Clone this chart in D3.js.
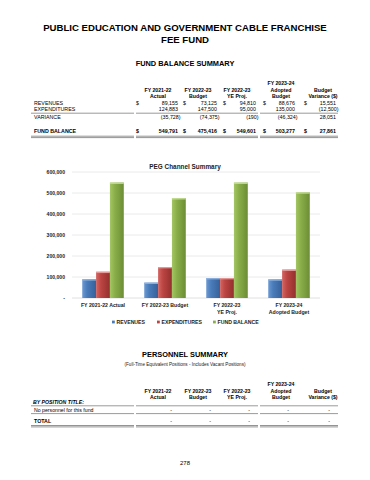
<!DOCTYPE html>
<html><head><meta charset="utf-8">
<script src="https://cdn.jsdelivr.net/npm/d3@7"></script>
<style>
html,body{margin:0;padding:0;background:#fff;}
svg{display:block;font-family:"Liberation Sans",Arial,sans-serif;}
</style></head>
<body>
<svg id="c" width="370" height="480"></svg>
<script>
// ---- data ----
const categories = ["FY 2021-22 Actual","FY 2022-23 Budget","FY 2022-23 YE Proj.","FY 2023-24 Adopted Budget"];
const categoryLabels = [["FY 2021-22 Actual"],["FY 2022-23 Budget"],["FY 2022-23","YE Proj."],["FY 2023-24","Adopted Budget"]];
const seriesNames = ["REVENUES","EXPENDITURES","FUND BALANCE"];
const revenues = [89155, 73125, 94810, 88676];
const expenditures = [124883, 147500, 95000, 135000];
const fundBalance = [549791, 475416, 549601, 503277];
const yTicks = [0,100000,200000,300000,400000,500000,600000];

const tableRowLabels = ["REVENUES","EXPENDITURES","VARIANCE","FUND BALANCE"];
const revenuesRow = [89155, 73125, 94810, 88676, 15551];
const expendituresRow = [124883, 147500, 95000, 135000, -12500];
const varianceRow = [-35728, -74375, -190, -46324, 28051];
const fundBalanceRow = [549791, 475416, 549601, 503277, 27861];
const headerTop = ["","","","FY 2023-24",""];
const headerMid = ["FY 2021-22","FY 2022-23","FY 2022-23","Adopted","Budget"];
const headerBot = ["Actual","Budget","YE Proj.","Budget","Variance ($)"];
const personnelRows = ["No personnel for this fund"];

// ---- layout ----
const svg = d3.select("#c");
const colCenter = [158,198,237,281,323];
const colRight = [179,218,257,296,337];
const colDollar = [136,183,223,263,304];
const segs = [[31,134],[136,258],[260,338]];

function txt(x,y,s,opt={}){
  return svg.append("text").attr("x",x).attr("y",y).text(s)
    .attr("font-size",opt.size||5.4).attr("font-weight",opt.bold?"bold":"normal")
    .attr("font-style",opt.italic?"italic":"normal")
    .attr("text-anchor",opt.anchor||"start").attr("fill",opt.fill||"#000");
}
function hline(y,color,w){
  segs.forEach(s=>svg.append("line").attr("x1",s[0]).attr("x2",s[1]).attr("y1",y).attr("y2",y)
    .attr("stroke",color||"#555").attr("stroke-width",w||0.6));
}
function dline(y){ hline(y,"#666",0.7); hline(y+1.4,"#666",0.7); }

// titles
txt(185,31,"PUBLIC EDUCATION AND GOVERNMENT CABLE FRANCHISE",{size:9.6,bold:true,anchor:"middle"});
txt(185,43,"FEE FUND",{size:9.6,bold:true,anchor:"middle"});
txt(185,66,"FUND BALANCE SUMMARY",{size:7.4,bold:true,anchor:"middle"});

// fund table header
[headerTop,headerMid,headerBot].forEach((row,i)=>{
  row.forEach((h,j)=>{ if(h) txt(colCenter[j],[84.7,92.3,98.3][i],h,{size:5.2,bold:true,anchor:"middle"}); });
});
const fmt = d3.format(",");
function acct(v){ return v<0 ? "("+fmt(-v)+")" : fmt(v)+"\u2009"; }
const tableRows = [revenuesRow,expendituresRow,varianceRow,fundBalanceRow];
const rowY = [105.4,111.2,119.2,133.2];
tableRows.forEach((row,i)=>{
  const bold = i===3;
  txt(34,rowY[i],tableRowLabels[i],{size:5.3,bold});
  row.forEach((v,j)=>{
    const neg = v<0;
    txt(colRight[j]+(neg?1.5:0),rowY[i],acct(v),{size:5.3,bold,anchor:"end"});
    if(i===0||i===3) txt(colDollar[j],rowY[i],"$",{size:5.3,bold});
  });
});
hline(113.2);
dline(136.2);

// ---- chart ----
const plot = {x0:72,x1:320,y0:298,y1:172};
const x = d3.scaleBand().domain(categories).range([plot.x0,plot.x1]).paddingInner(0.33).paddingOuter(0.165);
const xs = d3.scaleBand().domain(seriesNames).range([0,x.bandwidth()]);
const y = d3.scaleLinear().domain([0,600000]).range([plot.y0,plot.y1]);

txt(185,169,"PEG Channel Summary",{size:6.4,bold:true,anchor:"middle",fill:"#222"});

const g = svg.append("g");
g.selectAll(".grid").data(yTicks.slice(1)).join("line")
  .attr("x1",plot.x0).attr("x2",plot.x1).attr("y1",d=>y(d)).attr("y2",d=>y(d))
  .attr("stroke","#e4e4e4").attr("stroke-width",0.8);
g.append("line").attr("x1",plot.x0).attr("x2",plot.x1).attr("y1",y(0)).attr("y2",y(0))
  .attr("stroke","#d8d8d8").attr("stroke-width",0.8);
const yAxis = d3.axisLeft(y).tickValues(yTicks).tickSize(0).tickPadding(7)
  .tickFormat(d=>d===0?"-":fmt(d));
const ya = svg.append("g").attr("transform",`translate(${plot.x0},0)`).call(yAxis);
ya.select(".domain").remove();
ya.selectAll("text").attr("font-size",5.1).attr("font-weight","bold").attr("fill","#222")
  .attr("font-family","Liberation Sans, Arial, sans-serif");

const colors = [
  {base:"#4a7cba",dark:"#36609a",light:"#6c9ad3",cap:"#8fb3e0"},
  {base:"#bb4542",dark:"#93302e",light:"#d46663",cap:"#e59a98"},
  {base:"#8aae4a",dark:"#6c8d35",light:"#a4c664",cap:"#c6df98"}
];
const defs = svg.append("defs");
colors.forEach((c,i)=>{
  const gr = defs.append("linearGradient").attr("id","g"+i).attr("x1","0").attr("x2","1").attr("y1","0").attr("y2","0");
  gr.append("stop").attr("offset","0").attr("stop-color",c.light);
  gr.append("stop").attr("offset","0.35").attr("stop-color",c.base);
  gr.append("stop").attr("offset","1").attr("stop-color",c.dark);
});
const seriesData = [revenues,expenditures,fundBalance];
seriesData.forEach((vals,si)=>{
  const bw = xs.bandwidth();
  g.selectAll(".b"+si).data(vals).join("rect")
    .attr("x",(d,i)=>x(categories[i])+xs(seriesNames[si]))
    .attr("y",d=>y(d)).attr("width",bw).attr("height",d=>y(0)-y(d))
    .attr("fill",`url(#g${si})`);
  g.selectAll(".c"+si).data(vals).join("rect")
    .attr("x",(d,i)=>x(categories[i])+xs(seriesNames[si]))
    .attr("y",d=>y(d)).attr("width",bw).attr("height",1.3)
    .attr("fill",colors[si].cap);
});

// x labels
categoryLabels.forEach((lines,i)=>{
  lines.forEach((l,k)=>txt(x(categories[i])+x.bandwidth()/2,306.5+k*7,l,{size:5.2,bold:true,anchor:"middle",fill:"#222"}));
});

// legend
const legX = [112,157,213];
seriesNames.forEach((s,i)=>{
  svg.append("rect").attr("x",legX[i]).attr("y",320.6).attr("width",2.8).attr("height",2.8).attr("fill",colors[i].base);
  txt(legX[i]+4.5,324.3,s,{size:5.2,bold:true,fill:"#222"});
});

// ---- personnel ----
txt(185,357,"PERSONNEL SUMMARY",{size:7.4,bold:true,anchor:"middle"});
txt(185,366,"(Full-Time Equivalent Positions - Includes Vacant Positions)",{size:4.6,anchor:"middle",fill:"#222"});
[headerTop,headerMid,headerBot].forEach((row,i)=>{
  row.forEach((h,j)=>{ if(h) txt(colCenter[j],[385.5,393.3,399.3][i],h,{size:5.2,bold:true,anchor:"middle"}); });
});
txt(33,403.5,"BY POSITION TITLE:",{size:5.2,bold:true,italic:true});
hline(405.8);
personnelRows.forEach((r,i)=>{
  txt(34,411.5+i*7,r,{size:5.2});
  colRight.forEach(cx=>txt(cx-7,411.5+i*7,"-",{size:5.2,anchor:"end"}));
});
hline(413.6);
txt(34,423,"TOTAL",{size:5.3,bold:true});
colRight.forEach(cx=>txt(cx-7,423,"-",{size:5.2,anchor:"end"}));
dline(425.5);

txt(185,465,"278",{size:6,anchor:"middle"});
</script>
</body></html>
